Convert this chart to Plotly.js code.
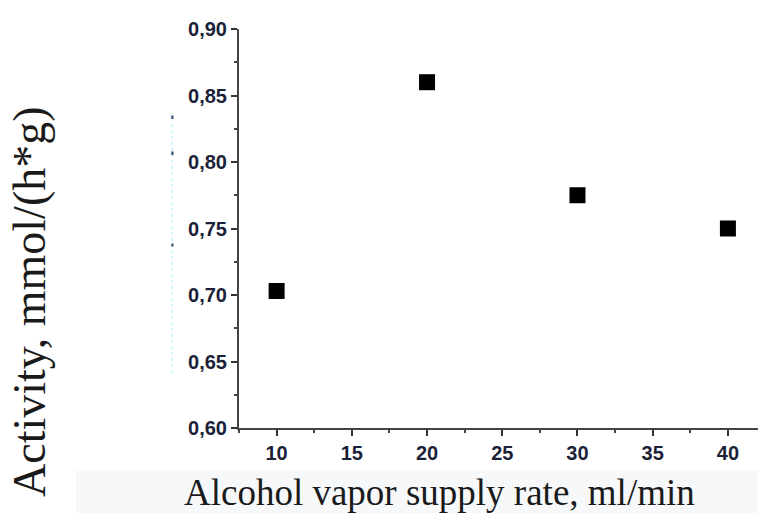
<!DOCTYPE html>
<html>
<head>
<meta charset="utf-8">
<script src="https://cdn.plot.ly/plotly-3.0.1.min.js"></script>
<style>html,body{margin:0;padding:0;background:#fff;}#chart{width:758px;height:513px;}</style>
</head>
<body>
<div id="chart"></div>
<script>
// Data
const supplyRate = [10, 20, 30, 40];
const activity = [0.703, 0.860, 0.775, 0.750];
const xTitle = 'Alcohol vapor supply rate, ml/min';
const yTitle = 'Activity, mmol/(h*g)';

const W = 758, H = 513;
const L = 239, R = 0, T = 29, B = 85;
const pw = W - L - R, ph = H - T - B;
const px = x => (x - L) / pw;          // pixel -> paper x
const py = y => (H - B - y) / ph;      // pixel -> paper y

const tickFont = {family: 'Liberation Sans, Arial, sans-serif', size: 20, color: '#1c1f38', weight: 700};
const titleFont = {family: 'Liberation Serif, Times New Roman, serif', color: '#1a1a1a'};

const trace = {
  x: supplyRate,
  y: activity,
  type: 'scatter',
  mode: 'markers',
  marker: {symbol: 'square', size: 16, color: '#000000', line: {width: 0}},
  showlegend: false,
  hoverinfo: 'x+y'
};

const layout = {
  width: W, height: H,
  margin: {l: L, r: R, t: T, b: B, pad: 0},
  paper_bgcolor: '#ffffff',
  plot_bgcolor: '#ffffff',
  separators: ',.',
  showlegend: false,
  xaxis: {
    range: [7.5, 42],
    tick0: 0, dtick: 5,
    ticks: 'outside', ticklen: 6, tickwidth: 2, tickcolor: '#333',
    showline: true, linecolor: '#444', linewidth: 2,
    showgrid: false, zeroline: false,
    tickfont: tickFont,
    minor: {ticks: 'outside', ticklen: 3, tickwidth: 2, tickcolor: '#444', dtick: 2.5, tick0: 0, showgrid: false},
    fixedrange: true
  },
  yaxis: {
    range: [0.6, 0.9],
    tick0: 0, dtick: 0.05,
    tickformat: '.2f',
    ticks: 'outside', ticklen: 6, tickwidth: 2, tickcolor: '#333',
    showline: true, linecolor: '#444', linewidth: 2,
    showgrid: false, zeroline: false,
    tickfont: tickFont,
    minor: {ticks: 'outside', ticklen: 3, tickwidth: 2, tickcolor: '#444', dtick: 0.025, tick0: 0, showgrid: false},
    fixedrange: true
  },
  shapes: [
    {type: 'rect', xref: 'paper', yref: 'paper', x0: px(76), x1: px(758), y0: py(513), y1: py(470.5),
     fillcolor: '#f7f8fa', line: {width: 0}, layer: 'below'},
    {type: 'line', xref: 'paper', yref: 'paper', x0: px(172.3), x1: px(172.3), y0: py(373), y1: py(122),
     line: {color: '#c4f3f8', width: 1.5, dash: 'dot'}},
    {type: 'rect', xref: 'paper', yref: 'paper', x0: px(171.3), x1: px(173.5), y0: py(119), y1: py(115.5),
     fillcolor: '#3a4f7a', line: {width: 0}},
    {type: 'rect', xref: 'paper', yref: 'paper', x0: px(171.3), x1: px(173.5), y0: py(155), y1: py(151.5),
     fillcolor: '#3a4f7a', line: {width: 0}},
    {type: 'rect', xref: 'paper', yref: 'paper', x0: px(171.3), x1: px(173.5), y0: py(246.5), y1: py(243.5),
     fillcolor: '#3a4f7a', line: {width: 0}}
  ],
  annotations: [
    {text: xTitle, xref: 'paper', yref: 'paper', x: px(439), y: py(492),
     xanchor: 'center', yanchor: 'middle', showarrow: false,
     font: Object.assign({size: 37}, titleFont)},
    {text: yTitle, xref: 'paper', yref: 'paper', x: px(29), y: py(302),
     xanchor: 'center', yanchor: 'middle', showarrow: false, textangle: -90, borderpad: 0,
     font: Object.assign({size: 46}, titleFont)}
  ]
};

Plotly.newPlot('chart', [trace], layout, {displayModeBar: false, staticPlot: true});
</script>
</body>
</html>
